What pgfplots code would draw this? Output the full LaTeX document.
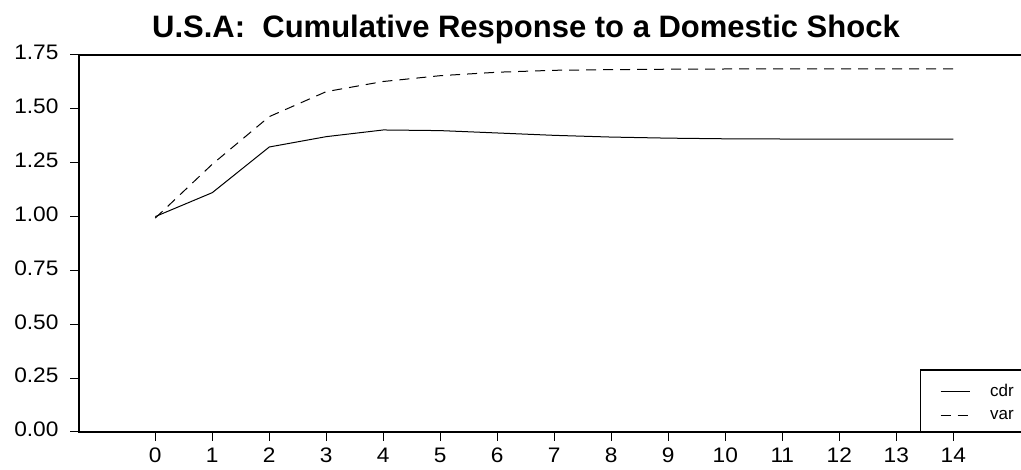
\documentclass[border=0pt]{standalone}
\usepackage{fontspec}
\setmainfont{Liberation Sans}
\newfontfamily\tickfont{Liberation Sans}[FakeStretch=1.08]
\usepackage{pgfplots}
\pgfplotsset{compat=1.18}
\begin{document}
\begin{tikzpicture}[x=1pt,y=1pt]
\path[use as bounding box] (0,0) rectangle (1021,470);
\begin{axis}[
  at={(79pt,38pt)}, anchor=south west,
  scale only axis, width=944pt, height=377pt,
  xmin=-1.3386, xmax=15.223, ymin=0, ymax=1.75,
  axis line style={line width=1.2pt, -},
  xtick={0,1,2,3,4,5,6,7,8,9,10,11,12,13,14},
  ytick={0,0.25,0.5,0.75,1,1.25,1.5,1.75},
  xtick pos=bottom, ytick pos=left,
  tick align=outside, major tick length=9pt,
  tick style={line width=1pt, black},
  /pgf/number format/assume math mode=true,
  typeset ticklabels with strut,
  ticklabel style={font=\tickfont\fontsize{21}{24}\selectfont},
  yticklabel style={xshift=-8pt, /pgf/number format/.cd, fixed, fixed zerofill, precision=2},
  xticklabel style={yshift=-1pt, /pgf/number format/.cd, fixed, precision=0},
  legend style={at={(0.912,0.1273)}, anchor=north west, draw=none, fill=none,
    inner sep=0pt, row sep=12pt,
    nodes={inner sep=0pt, font=\fontsize{17}{17}\selectfont},
    /tikz/every odd column/.append style={column sep=20pt}},
  legend cell align=left,
  legend image code/.code={\draw[#1] (0pt,0pt) -- (29pt,0pt);},
]
\addplot[black, line width=1pt] coordinates {(0,1.000) (1,1.111) (2,1.323) (3,1.371) (4,1.402) (5,1.399) (6,1.388) (7,1.377) (8,1.369) (9,1.364) (10,1.361) (11,1.360) (12,1.359) (13,1.359) (14,1.359)};
\addlegendentry{cdr}
\addplot[black, line width=1pt, dash pattern=on 10pt off 7pt] coordinates {(0,0.993) (1,1.243) (2,1.464) (3,1.580) (4,1.627) (5,1.654) (6,1.670) (7,1.679) (8,1.682) (9,1.684) (10,1.685) (11,1.685) (12,1.685) (13,1.685) (14,1.685)};
\addlegendentry{var}
\end{axis}
\draw[line width=1.2pt] (920.7,38) rectangle (1040,100);
\node[anchor=base, font=\bfseries\fontsize{31}{36}\selectfont] at (526,432) {U.S.A:\ \ Cumulative Response to a Domestic Shock};
\end{tikzpicture}
\end{document}
